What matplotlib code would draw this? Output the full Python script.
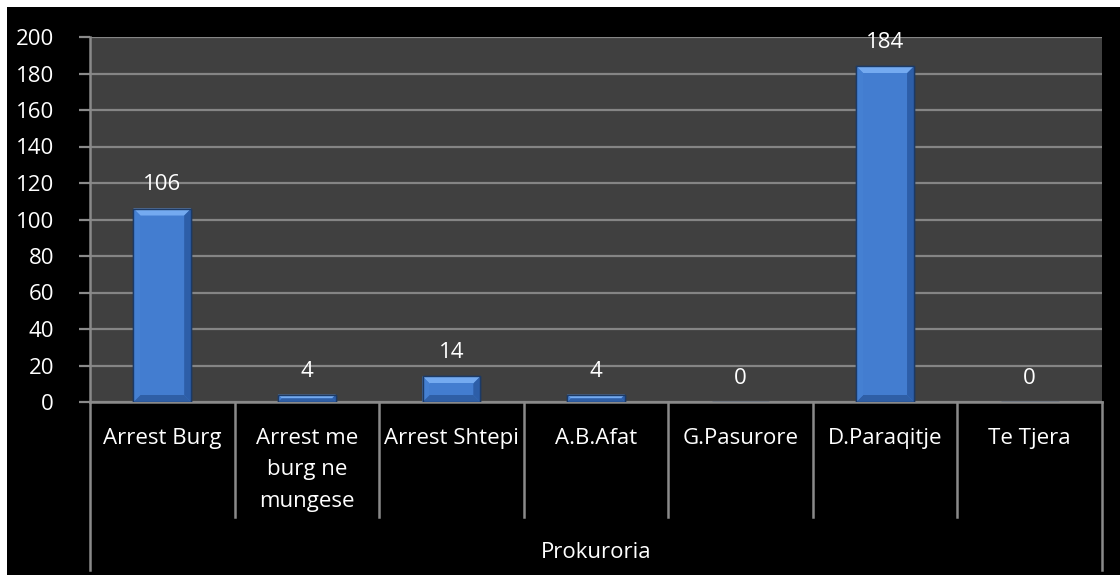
import numpy as np
import matplotlib.pyplot as plt
from matplotlib.patches import Rectangle, Polygon
import matplotlib.transforms as mtransforms

plt.rcParams['font.family'] = ['Open Sans', 'DejaVu Sans']

categories = ["Arrest Burg", "Arrest me\nburg ne\nmungese", "Arrest Shtepi", "A.B.Afat",
              "G.Pasurore", "D.Paraqitje", "Te Tjera"]
values = [106, 4, 14, 4, 0, 184, 0]
group_label = "Prokuroria"
yticks = np.arange(0, 201, 20)

W, H = 1120, 575
fig = plt.figure(figsize=(W / 100, H / 100), dpi=100, facecolor='white')
# black chart area (thin white margin top and left)
fig.patches.append(Rectangle((7 / W, 0), 1, (H - 7) / H, transform=fig.transFigure,
                             facecolor='black', edgecolor='none', zorder=-10))

ax = fig.add_axes([90 / W, 1 - 402 / H, (1102 - 90) / W, (402 - 37) / H])
ax.set_facecolor('#404040')
ax.set_xlim(-0.5, len(categories) - 0.5)
ax.set_ylim(0, 200)
ax.set_yticks(yticks)
ax.yaxis.grid(True, color='#858585', linewidth=1.6)
ax.set_axisbelow(True)
for s in ['top', 'right']:
    ax.spines[s].set_visible(False)
for s in ['left', 'bottom']:
    ax.spines[s].set_color('#8a8a8a')
    ax.spines[s].set_linewidth(1.8)
ax.tick_params(axis='y', colors='#8a8a8a', length=8, width=1.6, pad=18,
               labelcolor='white', labelsize=16)
ax.set_xticks([])

xs = np.arange(len(categories))
bw = 0.4
bars = ax.bar(xs, values, width=bw, color='#3f7bcf', edgecolor='#1c3a66',
              linewidth=1.0, zorder=3)

# bevel effect on the bars
px_x = (len(categories)) / (1102 - 90)
px_y = 200 / (402 - 37)
for x, v in zip(xs, values):
    if v <= 0:
        continue
    by = min(7 * px_y, v / 2)
    bx = min(7 * px_x, by / px_y * px_x)
    l, r = x - bw / 2, x + bw / 2
    top = [(l, v), (r, v), (r - bx, v - by), (l + bx, v - by)]
    bot = [(l, 0), (r, 0), (r - bx, by), (l + bx, by)]
    left = [(l, 0), (l, v), (l + bx, v - by), (l + bx, by)]
    right = [(r, 0), (r, v), (r - bx, v - by), (r - bx, by)]
    for pts, c in [(top, '#74aaf0'), (bot, '#2f5fa6'), (left, '#4580d2'), (right, '#2d5ea8')]:
        ax.add_patch(Polygon(pts, closed=True, facecolor=c, edgecolor='none', zorder=4))
    ax.add_patch(Rectangle((l, 0), bw, v, facecolor='none', edgecolor='#1c3a66',
                           linewidth=1.0, zorder=5))
    ax.add_patch(Rectangle((l + bx, by), bw - 2 * bx, v - 2 * by, facecolor='#437dd0',
                           edgecolor='none', zorder=4))

for x, v in zip(xs, values):
    ax.annotate(str(v), (x, v), xytext=(0, 13), textcoords='offset points',
                ha='center', va='baseline', color='white', fontsize=16)

# multi-level category axis
trans = mtransforms.blended_transform_factory(ax.transData, ax.transAxes)
ax_h = 402 - 37
for i in range(len(categories) + 1):
    xb = i - 0.5
    low = -(570 - 402) / ax_h if i in (0, len(categories)) else -(517 - 402) / ax_h
    ax.plot([xb, xb], [0, low], transform=trans, color='#8a8a8a', linewidth=1.8,
            clip_on=False, zorder=2)
for x, c in zip(xs, categories):
    ax.text(x, -(428 - 402) / ax_h, c, transform=trans, ha='center', va='top',
            color='white', fontsize=16, linespacing=1.65)
ax.text(0.5, -(552 - 402) / ax_h, group_label, transform=ax.transAxes, ha='center',
        va='center', color='white', fontsize=16)

fig.savefig('out.png', dpi=100, facecolor=fig.get_facecolor())
